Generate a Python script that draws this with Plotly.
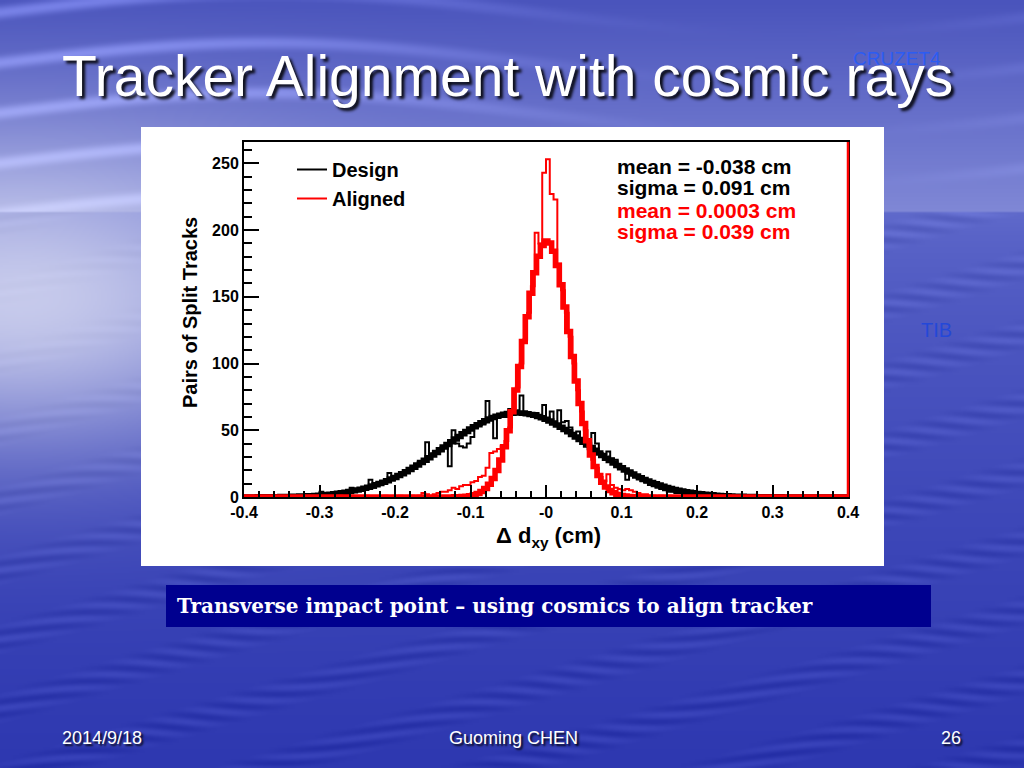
import numpy as np
import plotly.graph_objects as go
import zlib, struct, base64

# ---------------- data ----------------
bin_width = 0.005
hist_first_center = -0.3975          # bins of 0.005 cm from -0.4 to 0.4
fit_first_x = -0.400                 # fit curves sampled every 0.005 cm

design_counts = [
    0, 0, 0, 0, 0, 1, 0, 0, 0, 0,
    1, 0, 0, 1, 0, 1, 0, 1, 2, 1,
    4, 1, 2, 2, 3, 2, 3, 4, 7, 4,
    5, 6, 6, 13, 7, 9, 10, 11, 18, 13,
    15, 17, 18, 20, 22, 23, 26, 27, 41, 31,
    33, 34, 37, 38, 23, 50, 40, 38, 37, 40,
    45, 52, 54, 55, 72, 58, 44, 60, 62, 60,
    66, 63, 65, 76, 64, 62, 61, 63, 60, 69,
    58, 64, 55, 65, 56, 57, 52, 47, 49, 44,
    40, 38, 48, 40, 33, 32, 34, 29, 28, 22,
    21, 13, 19, 16, 14, 12, 11, 9, 8, 7,
    6, 5, 4, 4, 3, 3, 2, 2, 1, 2,
    1, 1, 0, 1, 0, 1, 0, 0, 0, 1,
    0, 0, 0, 1, 0, 0, 0, 0, 0, 0,
    0, 0, 0, 0, 0, 0, 0, 0, 0, 0,
    0, 0, 0, 0, 0, 0, 0, 0, 0, 0,
]

aligned_counts = [
    0, 0, 0, 0, 0, 0, 0, 0, 0, 0,
    0, 0, 0, 0, 0, 0, 0, 0, 0, 0,
    0, 0, 0, 0, 0, 1, 0, 0, 0, 0,
    0, 0, 1, 0, 0, 0, 0, 1, 0, 0,
    0, 1, 0, 0, 1, 0, 1, 3, 2, 1,
    2, 3, 4, 4, 5, 7, 6, 8, 9, 9,
    11, 12, 15, 16, 22, 33, 34, 36, 38, 42,
    52, 66, 82, 100, 118, 138, 158, 198, 190, 243,
    253, 227, 223, 175, 155, 138, 120, 100, 80, 64,
    50, 38, 28, 22, 15, 12, 17, 9, 7, 6,
    5, 6, 5, 4, 3, 2, 2, 1, 1, 0,
    1, 0, 1, 0, 0, 0, 0, 0, 0, 0,
    0, 0, 0, 0, 0, 0, 0, 0, 0, 0,
    0, 0, 0, 0, 0, 0, 0, 0, 0, 0,
    0, 0, 0, 0, 0, 0, 0, 0, 0, 0,
    0, 0, 0, 0, 0, 0, 0, 0, 0, 0,
]

design_fit = [
    0.03, 0.05, 0.06, 0.08, 0.1, 0.12, 0.14, 0.17, 0.2, 0.24,
    0.3, 0.34, 0.4, 0.48, 0.6, 0.66, 0.8, 0.9, 1.0, 1.2,
    1.4, 1.6, 1.9, 2.1, 2.5, 2.8, 3.2, 3.6, 4.1, 4.6,
    5.2, 5.9, 6.6, 7.3, 8.2, 9.1, 10.1, 11.1, 12.2, 13.4,
    14.7, 16.1, 17.5, 19.0, 20.6, 22.3, 24.0, 25.8, 27.6, 29.5,
    31.4, 33.4, 35.4, 37.4, 39.4, 41.4, 43.4, 45.3, 47.3, 49.1,
    50.9, 52.6, 54.2, 55.7, 57.1, 58.4, 59.5, 60.5, 61.3, 62.0,
    62.5, 62.8, 63.0, 63.0, 62.8, 62.4, 61.9, 61.2, 60.3, 59.3,
    58.2, 56.9, 55.4, 53.9, 52.3, 50.6, 48.8, 46.9, 45.0, 43.0,
    41.0, 39.0, 37.0, 35.0, 33.0, 31.1, 29.1, 27.3, 25.4, 23.6,
    21.9, 20.3, 18.7, 17.2, 15.8, 14.5, 13.2, 12.0, 10.9, 9.9,
    8.9, 8.0, 7.2, 6.4, 5.7, 5.1, 4.5, 4.0, 3.5, 3.1,
    2.7, 2.4, 2.1, 1.8, 1.6, 1.4, 1.2, 1.0, 0.9, 0.7,
    0.6, 0.5, 0.5, 0.4, 0.3, 0.3, 0.2, 0.2, 0.1, 0.1,
    0.1, 0.1, 0.1, 0.05, 0.04, 0.03, 0.02, 0.01, 0, 0,
    0, 0, 0, 0, 0, 0, 0, 0, 0, 0,
    0,
]

aligned_fit = [
    0, 0, 0, 0, 0, 0, 0, 0, 0, 0,
    0, 0, 0, 0, 0, 0, 0, 0, 0, 0,
    0, 0, 0, 0, 0, 0, 0, 0, 0, 0,
    0, 0, 0, 0, 0, 0, 0, 0, 0, 0,
    0, 0, 0, 0, 0, 0, 0, 0, 0, 0,
    0, 0, 0, 0, 0, 0,
    0.1, 0.2, 0.3, 0.55, 0.95, 1.6, 2.6, 4.1, 6.3, 9.5,
    13.9, 19.9, 27.7, 37.6, 49.6, 63.9, 80.1, 97.8, 116.5, 135.1,
    152.6, 168.1, 180.3, 188.4, 191.9, 190.4, 184.1, 173.4, 159.1, 142.3,
    124.0, 105.2, 87.0, 70.1, 55.0, 42.1, 31.4, 22.8, 16.1, 11.1,
    7.5, 4.9, 3.1, 1.9, 1.2, 0.7, 0.4, 0.2, 0.1,
    0, 0, 0, 0, 0, 0, 0, 0, 0, 0,
    0, 0, 0, 0, 0, 0, 0, 0, 0, 0,
    0, 0, 0, 0, 0, 0, 0, 0, 0, 0,
    0, 0, 0, 0, 0, 0, 0, 0, 0, 0,
    0, 0, 0, 0, 0, 0, 0, 0, 0, 0,
    0, 0, 0, 0, 0, 0,
]

series_names = ["Design", "Aligned"]
x_tickvals = [-0.4, -0.3, -0.2, -0.1, 0.0, 0.1, 0.2, 0.3, 0.4]
x_ticktext = ["-0.4", "-0.3", "-0.2", "-0.1", "-0", "0.1", "0.2", "0.3", "0.4"]
y_tickvals = [0, 50, 100, 150, 200, 250]
stats_lines = ["mean = -0.038 cm", "sigma = 0.091 cm", "mean = 0.0003 cm", "sigma = 0.039 cm"]

title_text = "Tracker Alignment with cosmic rays"
caption_text = "Transverse impact point \u2013 using cosmics to align tracker"
footer_left, footer_mid, footer_right = "2014/9/18", "Guoming CHEN", "26"

# ---------------- x positions (axis grid) ----------------
hist_x = np.round(hist_first_center + bin_width * np.arange(len(design_counts)), 4)
fit_x = np.round(fit_first_x + bin_width * np.arange(len(design_fit)), 4)
minor_x = np.round(np.arange(-0.4, 0.4001, 0.02), 3)
minor_y = list(range(0, 261, 10))

# ---------------- decorative slide background (png) ----------------
def make_png(arr):
    h, w, _ = arr.shape
    raw = b"".join(b"\x00" + arr[r].tobytes() for r in range(h))
    def chunk(t, d):
        c = struct.pack(">I", len(d)) + t + d
        return c + struct.pack(">I", zlib.crc32(t + d) & 0xFFFFFFFF)
    return (b"\x89PNG\r\n\x1a\n"
            + chunk(b"IHDR", struct.pack(">IIBBBBB", w, h, 8, 2, 0, 0, 0))
            + chunk(b"IDAT", zlib.compress(raw, 9))
            + chunk(b"IEND", b""))

H, W = 384, 512
yy, xx = np.mgrid[0:H, 0:W].astype(float)
X = (xx + 0.5) * 2.0
Y = (yy + 0.5) * 2.0
hz = 212.0
t = np.clip(Y / hz, 0, 1)[..., None]
sky = np.array([74, 84, 188.0]) * (1 - t) + np.array([128, 136, 214.0]) * t
streak = np.clip(np.sin(Y / 8.0 + 2.5 * np.sin(X / 170.0)), 0, 1) ** 3
streak *= (0.5 + 0.5 * np.sin(X / 230.0 + 1.3))
sky = sky + (42 * streak)[..., None]
s = np.clip((Y - hz) / (768 - hz), 0, 1)[..., None]
sea = np.array([98, 108, 204.0]) * (1 - s ** 0.6) + np.array([46, 56, 176.0]) * s ** 0.6
ripple = np.sin(Y / 2.2 + 3 * np.sin(X / 60.0)) * np.clip(np.sin(X / 37.0 + Y / 11.0), 0, 1)
sea = sea + (10 * ripple)[..., None]
img = np.where((Y < hz)[..., None], sky, sea)
glow = np.exp(-((X - 20) / 300.0) ** 2 - ((Y - 300) / 150.0) ** 2)[..., None]
img = img + (np.array([228, 230, 246.0]) - img) * 0.8 * glow
img = np.clip(img, 0, 255).astype(np.uint8)
bg_src = "data:image/png;base64," + base64.b64encode(make_png(img)).decode()

# ---------------- figure ----------------
FW, FH = 1024, 768
def px(x):
    return x / FW
def py(y):
    return 1 - y / FH

ROOT_FONT = "Liberation Sans"
fig = go.Figure()

fig.add_trace(go.Scatter(x=hist_x, y=design_counts, mode="lines", line_shape="hvh",
                         line=dict(color="#000000", width=2), name=series_names[0]))
fig.add_trace(go.Scatter(x=fit_x, y=design_fit, mode="lines", line_shape="hvh",
                         line=dict(color="#000000", width=5.5), showlegend=False, name="Design fit"))
fig.add_trace(go.Scatter(x=hist_x, y=aligned_counts, mode="lines", line_shape="hvh",
                         line=dict(color="#ff0000", width=2), name=series_names[1]))
fig.add_trace(go.Scatter(x=fit_x, y=aligned_fit, mode="lines", line_shape="hvh",
                         line=dict(color="#ff0000", width=5.5), showlegend=False, name="Aligned fit"))

fig.update_layout(
    width=FW, height=FH, autosize=False,
    margin=dict(l=0, r=0, t=0, b=0, pad=0, autoexpand=False),
    paper_bgcolor="#3a46b4",
    plot_bgcolor="white",
    showlegend=True,
    legend=dict(x=px(292), y=py(150), xanchor="left", yanchor="top",
                bgcolor="rgba(0,0,0,0)", borderwidth=0,
                font=dict(family=ROOT_FONT, size=20, color="black", weight="bold"),
                tracegroupgap=0, itemwidth=30),
    xaxis=dict(domain=[px(244), px(848)], range=[-0.4, 0.4], automargin=False,
               showline=True, linecolor="black", linewidth=2, mirror=True,
               ticks="inside", ticklen=12, tickwidth=1.5, tickcolor="black",
               tickmode="array", tickvals=x_tickvals, ticktext=x_ticktext,
               tickfont=dict(family=ROOT_FONT, size=16, color="black", weight="bold"),
               showgrid=False, zeroline=False,
               minor=dict(tickmode="array", tickvals=minor_x, ticks="inside",
                          ticklen=6, tickwidth=1.5, tickcolor="black", showgrid=False)),
    yaxis=dict(domain=[py(497), py(142)], range=[0, 266], automargin=False,
               showline=True, linecolor="black", linewidth=2, mirror=True,
               ticks="inside", ticklen=15, tickwidth=1.5, tickcolor="black",
               tickmode="array", tickvals=y_tickvals,
               tickfont=dict(family=ROOT_FONT, size=16, color="black", weight="bold"),
               showgrid=False, zeroline=False,
               minor=dict(tickmode="array", tickvals=minor_y, ticks="inside",
                          ticklen=8, tickwidth=1.5, tickcolor="black", showgrid=False)),
    images=[dict(source=bg_src, xref="paper", yref="paper", x=0, y=1,
                 sizex=1, sizey=1, sizing="stretch", xanchor="left", yanchor="top",
                 layer="below")],
)

# white picture panel, caption box, red right frame
fig.add_shape(type="rect", xref="paper", yref="paper", x0=px(141), x1=px(884),
              y0=py(566), y1=py(127), fillcolor="white", line_width=0, layer="below")
fig.add_shape(type="rect", xref="paper", yref="paper", x0=px(166), x1=px(931),
              y0=py(627), y1=py(585), fillcolor="#00008f", line_width=0, layer="below")
fig.add_shape(type="line", xref="x domain", yref="y domain", x0=1, x1=1, y0=0, y1=1,
              line=dict(color="#ff0000", width=2.5), layer="above")

shadow = "2px 2px 2px rgba(0,0,0,0.85)"
# slide texts
fig.add_annotation(text=title_text, xref="paper", yref="paper", x=px(60), y=py(76),
                   xanchor="left", yanchor="middle", showarrow=False,
                   font=dict(family="Liberation Sans", size=57, color="white",
                             shadow="3px 3px 3px rgba(0,0,0,0.9)"))
fig.add_annotation(text="CRUZET4", xref="paper", yref="paper", x=px(851), y=py(58),
                   xanchor="left", yanchor="middle", showarrow=False,
                   font=dict(family="Liberation Sans", size=19, color="#2c5cf2"))
fig.add_annotation(text="TIB", xref="paper", yref="paper", x=px(919), y=py(330),
                   xanchor="left", yanchor="middle", showarrow=False,
                   font=dict(family="Liberation Sans", size=20, color="#2448d8"))
fig.add_annotation(text="<b>" + caption_text + "</b>", xref="paper", yref="paper",
                   x=px(175), y=py(606), xanchor="left", yanchor="middle", showarrow=False,
                   font=dict(family="DejaVu Serif", size=20, color="white"))
fig.add_annotation(text=footer_left, xref="paper", yref="paper", x=px(60), y=py(738),
                   xanchor="left", yanchor="middle", showarrow=False,
                   font=dict(family="Liberation Sans", size=18, color="white", shadow=shadow))
fig.add_annotation(text=footer_mid, xref="paper", yref="paper", x=px(513), y=py(738),
                   xanchor="center", yanchor="middle", showarrow=False,
                   font=dict(family="Liberation Sans", size=18, color="white", shadow=shadow))
fig.add_annotation(text=footer_right, xref="paper", yref="paper", x=px(951), y=py(738),
                   xanchor="center", yanchor="middle", showarrow=False,
                   font=dict(family="Liberation Sans", size=18, color="white", shadow=shadow))

# chart texts
fig.add_annotation(text="<b>\u0394 d<sub>xy</sub> (cm)</b>", xref="paper", yref="paper",
                   x=px(548), y=py(537), xanchor="center", yanchor="middle", showarrow=False,
                   font=dict(family=ROOT_FONT, size=22, color="black"))
fig.add_annotation(text="<b>Pairs of Split Tracks</b>", xref="paper", yref="paper",
                   x=px(190), y=py(313), xanchor="center", yanchor="middle", showarrow=False,
                   textangle=-90, font=dict(family=ROOT_FONT, size=20, color="black"))
stat_colors = ["black", "black", "#ff0000", "#ff0000"]
stat_rows = [167, 188, 210, 232]
for txt, col, ry in zip(stats_lines, stat_colors, stat_rows):
    fig.add_annotation(text="<b>" + txt + "</b>", xref="paper", yref="paper",
                       x=px(615), y=py(ry), xanchor="left", yanchor="middle", showarrow=False,
                       font=dict(family=ROOT_FONT, size=21, color=col))

fig.write_html("out.html",
               config={"displayModeBar": False},
               post_script="document.body.style.margin='0px';"
                           "document.body.style.overflow='hidden';"
                           "document.body.style.background='#3a46b4';")
